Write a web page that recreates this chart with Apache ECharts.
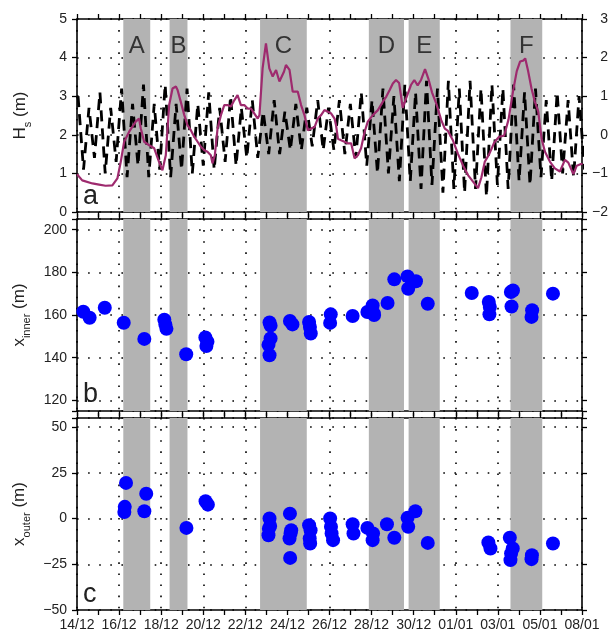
<!DOCTYPE html>
<html><head><meta charset="utf-8">
<script src="https://cdn.jsdelivr.net/npm/echarts@6/dist/echarts.min.js"></script>
<style>html,body{margin:0;padding:0;background:#fff}#c{width:612px;height:635px}</style>
</head><body><div id="c"></div>
<script>
// x axis: days since 14/12
const xTickLabels = ['14/12','16/12','18/12','20/12','22/12','24/12','26/12','28/12','30/12','01/01','03/01','05/01','08/01'];
const eventLabels = ['A','B','C','D','E','F'];
const eventStart = [2.20, 4.40, 8.70, 13.87, 15.76, 20.60];
const eventEnd   = [3.48, 5.25, 10.92, 15.54, 17.24, 22.11];

const hsDays = [0,0.25,0.73,1.05,1.36,1.68,1.92,2.08,2.24,2.48,
 2.79,2.95,3.03,3.19,3.43,3.67,3.90,4.06,4.22,4.38,
 4.54,4.70,4.78,4.93,5.10,5.25,5.41,5.57,5.73,5.89,
 6.05,6.20,6.36,6.44,6.55,6.68,6.84,7.00,7.16,7.31,
 7.48,7.63,7.71,7.79,7.95,8.11,8.27,8.43,8.59,8.67,
 8.82,8.98,9.14,9.30,9.46,9.62,9.84,9.93,10.10,10.25,
 10.49,10.65,10.81,10.97,11.12,11.29,11.44,11.60,11.76,11.92,
 12.08,12.24,12.31,12.40,12.55,12.71,12.87,13.03,13.19,13.35,
 13.50,13.67,13.82,14.06,14.30,14.54,14.70,14.86,15.01,15.16,
 15.31,15.48,15.71,15.87,16.03,16.19,16.35,16.54,16.70,16.87,
 17.08,17.31,17.48,17.63,17.87,18.11,18.35,18.59,18.83,19.06,
 19.22,19.38,19.59,19.83,20.06,20.30,20.51,20.73,20.90,21.06,
 21.20,21.30,21.44,21.60,21.76,21.92,22.08,22.24,22.48,22.71,
 22.95,23.19,23.35,23.59,23.75,23.98,24.0];
const hsValues = [0.98,0.82,0.74,0.71,0.68,0.69,0.87,1.30,1.82,2.08,
 2.34,2.42,2.17,1.82,1.73,1.65,1.30,1.08,1.47,2.77,
 3.20,3.25,3.16,2.86,2.51,2.25,2.12,1.95,1.82,1.69,
 1.60,1.56,1.47,1.26,1.47,2.16,2.51,2.77,2.77,2.73,
 2.90,3.03,3.07,2.77,2.77,2.68,2.68,2.55,2.42,2.51,
 3.72,4.37,3.72,3.51,3.68,3.38,3.64,3.81,3.68,3.12,
 3.12,2.77,2.51,2.12,2.16,2.20,2.42,2.51,2.64,2.60,
 2.55,2.42,2.25,1.90,1.86,1.82,1.78,1.78,1.39,1.47,
 1.65,2.08,2.34,2.51,2.64,2.86,2.99,3.16,3.33,3.42,
 3.34,2.70,3.05,3.29,3.42,3.28,3.42,3.70,3.45,3.10,
 2.80,2.38,2.16,2.10,1.85,1.50,1.20,0.95,0.78,0.62,
 0.90,1.30,1.50,1.80,1.95,1.98,2.40,3.15,3.65,3.90,
 3.92,3.98,3.65,3.20,2.86,2.60,1.90,1.56,1.30,1.13,
 1.05,1.35,1.28,0.98,1.20,1.25,1.22];

const tideDays = [0.05,0.31,0.57,0.83,1.09,1.34,1.60,1.86,2.12,2.38,
 2.64,2.90,3.16,3.41,3.67,3.93,4.19,4.45,4.71,4.97,
 5.23,5.48,5.74,6.00,6.26,6.52,6.78,7.04,7.30,7.56,
 7.81,8.07,8.33,8.59,8.85,9.11,9.37,9.63,9.88,10.14,
 10.40,10.66,10.92,11.18,11.44,11.70,11.95,12.21,12.47,12.73,
 12.99,13.25,13.51,13.77,14.02,14.28,14.54,14.80,15.06,15.32,
 15.58,15.84,16.09,16.35,16.61,16.87,17.13,17.39,17.65,17.91,
 18.17,18.42,18.68,18.94,19.20,19.46,19.72,19.98,20.24,20.49,
 20.75,21.01,21.27,21.53,21.79,22.05,22.30,22.56,22.82,23.08,
 23.34,23.60,23.86,24.12];
const tideValues = [1.0,-0.9,0.7,-0.6,1.1,-1.0,0.7,-0.7,1.2,-1.1,
 0.8,-0.8,1.3,-1.1,0.8,-0.9,1.3,-1.1,0.8,-0.9,
 1.2,-1.0,0.8,-0.8,1.1,-0.9,0.7,-0.7,1.0,-0.8,
 0.7,-0.6,0.9,-0.6,0.6,-0.5,0.9,-0.5,0.6,-0.4,
 0.8,-0.4,0.7,-0.3,0.9,-0.4,0.7,-0.4,0.9,-0.5,
 0.8,-0.6,1.1,-0.8,0.9,-1.0,1.2,-1.0,1.0,-1.2,
 1.3,-1.2,1.1,-1.4,1.4,-1.3,1.2,-1.5,1.4,-1.4,
 1.2,-1.5,1.4,-1.4,1.2,-1.6,1.3,-1.3,1.2,-1.4,
 1.3,-1.2,1.1,-1.3,1.2,-1.1,0.9,-1.2,1.1,-1.0,
 0.9,-1.1,1.0,-0.9];

const innerDays = [0.3,0.6,1.32,2.22,3.2,4.15,4.2,4.25,5.19,6.1,6.2,6.15,
 9.15,9.2,9.2,9.1,9.15,10.12,10.24,11.03,11.07,11.11,12.06,12.03,13.1,
 13.8,14.05,14.1,14.12,14.76,15.08,15.71,16.11,15.74,16.67,18.76,
 19.57,19.62,19.6,20.62,20.72,20.65,21.63,21.6,22.62];
const innerValues = [161.5,158.7,163.4,156.4,148.8,157.8,155.5,153.5,141.6,149.5,147.5,145.5,
 156.5,155,149,146,141.1,157.2,155.6,156.7,154.4,151.3,160.3,156.3,159.5,
 161.4,164.5,160.9,160,165.6,176.7,178.1,175.8,172.3,165.3,170.3,
 166.1,163.8,160.3,170.8,171.5,164,162.2,159.1,170];

const outerDays = [2.33,2.27,2.25,3.29,3.2,5.2,6.11,6.22,
 9.15,9.12,9.18,9.1,10.12,10.18,10.15,10.1,10.13,
 11.03,11.1,11.06,11.08,12.03,12.07,12.1,12.17,13.1,13.14,
 13.8,14.07,14.05,14.73,15.08,15.71,16.08,15.74,16.67,
 19.55,19.65,20.57,20.71,20.63,20.6,21.62,21.6,22.62];
const outerValues = [19.5,6.4,3.6,13.6,4.0,-5.1,9.5,7.6,
 0,-5.5,-4,-9.1,2.7,-6.4,-8.2,-10.9,-21.5,
 -3.6,-6.4,-10.9,-13.6,0,-4.5,-8.2,-11.8,-3.1,-8.2,
 -5.1,-8.2,-11.8,-3.1,-10.5,0.4,4.0,-4.5,-13.3,
 -13.1,-16.4,-10.5,-16.4,-19.1,-22.7,-20,-22.2,-13.6];

const FONT = 'Liberation Sans, Arial, Helvetica, sans-serif';
const TXT = '#222';
const minus = v => String(v).replace('-', '\u2212');
const dotted = {show:true, lineStyle:{color:'#000', width:1.6, type:[1.6,9.5]}};

function xAx(gi, pos, showLabel) {
  return {type:'value', gridIndex:gi, position:pos, min:0, max:24, interval:1,
    axisLine:{show:true, onZero:false, lineStyle:{color:'#000', width:1.6}},
    axisTick:{show:true, inside:false, length:5, lineStyle:{color:'#000', width:1.3}},
    axisLabel:{show:showLabel, fontSize:14, color:TXT, fontFamily:FONT, margin:8,
      formatter: v => (v % 2 === 0 ? xTickLabels[v/2] : '')},
    splitLine:{show:false}};
}
function xGridAx(gi) {
  return {type:'value', gridIndex:gi, position:'bottom', min:0, max:24, interval:2,
    axisLine:{show:false}, axisTick:{show:false}, axisLabel:{show:false}, splitLine:dotted};
}
function yBase(gi, pos, extra) {
  return Object.assign({type:'value', gridIndex:gi, position:pos,
    axisLine:{show:true, onZero:false, lineStyle:{color:'#000', width:1.6}},
    axisTick:{show:true, inside:false, length:5, lineStyle:{color:'#000', width:1.3}},
    axisLabel:{show:false}, splitLine:{show:false}}, extra);
}
const rich = {
  t:{fontSize:17, fontFamily:FONT, color:TXT, lineHeight:26},
  s:{fontSize:11, fontFamily:FONT, color:TXT, lineHeight:11, verticalAlign:'bottom'}
};
const leftLabel = f => ({show:true, fontSize:14, color:TXT, fontFamily:FONT, margin:10, formatter:f});

const areas = (withLabel) => ({
  silent:true,
  itemStyle:{color:'#b3b3b3', opacity:1},
  label:{show:withLabel, position:'insideTop', distance:15, fontSize:24, color:'#333', fontFamily:FONT},
  data: eventStart.map((s,i)=>[{xAxis:s, name:eventLabels[i]},{xAxis:eventEnd[i]}])
});

const option = {
  animation:false,
  backgroundColor:'#fff',
  grid:[
    {left:77, right:30, top:19, height:193},
    {left:77, right:30, top:219, height:192},
    {left:77, right:30, top:418, height:192}
  ],
  xAxis:[
    xAx(0,'bottom',false), xAx(0,'top',false), xGridAx(0),
    xAx(1,'bottom',false), xAx(1,'top',false), xGridAx(1),
    xAx(2,'bottom',true),  xAx(2,'top',false), xGridAx(2)
  ],
  yAxis:[
    yBase(0,'left',{min:0,max:5,interval:1, axisLabel:leftLabel(v=>v), splitLine:dotted,
      name:'{t|H}{s|s}{t| (m)}', nameLocation:'middle', nameGap:44, nameTextStyle:{rich}}),
    yBase(0,'right',{min:-2,max:3,interval:1,
      axisLabel:{show:true, fontSize:14, color:TXT, fontFamily:FONT, margin:26, align:'right', formatter:minus}}),
    yBase(1,'left',{min:115,max:205,minInterval:20,maxInterval:20,
      axisLabel:leftLabel(v => (v % 20 === 0 ? v : '')), splitLine:dotted,
      name:'{t|x}{s|inner}{t| (m)}', nameLocation:'middle', nameGap:44, nameTextStyle:{rich}}),
    yBase(1,'right',{min:115,max:205,minInterval:20,maxInterval:20}),
    yBase(2,'left',{min:-50,max:55,interval:25,
      axisLabel:leftLabel(v => (v % 25 === 0 ? minus(v) : '')), splitLine:dotted,
      name:'{t|x}{s|outer}{t| (m)}', nameLocation:'middle', nameGap:44, nameTextStyle:{rich}}),
    yBase(2,'right',{min:-50,max:55,interval:25})
  ],
  series:[
    {type:'line', xAxisIndex:0, yAxisIndex:1, showSymbol:false, symbol:'none', z:3,
     lineStyle:{color:'#000', width:2.8, type:[11,7], cap:'butt'},
     data: tideDays.map((d,i)=>[d, tideValues[i]]),
     markArea: areas(true)},
    {type:'line', xAxisIndex:0, yAxisIndex:0, showSymbol:false, symbol:'none', z:4,
     lineStyle:{color:'#9e2a6e', width:2.2},
     data: hsDays.map((d,i)=>[d, hsValues[i]])},
    {type:'scatter', xAxisIndex:3, yAxisIndex:2, symbolSize:14, z:3,
     itemStyle:{color:'#0000ff', opacity:1},
     data: innerDays.map((d,i)=>[d, innerValues[i]]),
     markArea: areas(false)},
    {type:'scatter', xAxisIndex:6, yAxisIndex:4, symbolSize:14, z:3,
     itemStyle:{color:'#0000ff', opacity:1},
     data: outerDays.map((d,i)=>[d, outerValues[i]]),
     markArea: areas(false)}
  ],
  graphic:[
    {type:'text', left:83, top:183, style:{text:'a', fontSize:27, fill:'#222', fontFamily:FONT}},
    {type:'text', left:83, top:381, style:{text:'b', fontSize:27, fill:'#222', fontFamily:FONT}},
    {type:'text', left:83, top:581, style:{text:'c', fontSize:27, fill:'#222', fontFamily:FONT}}
  ]
};
const chart = echarts.init(document.getElementById('c'), null, {renderer:'canvas'});
chart.setOption(option);
</script>
</body></html>
